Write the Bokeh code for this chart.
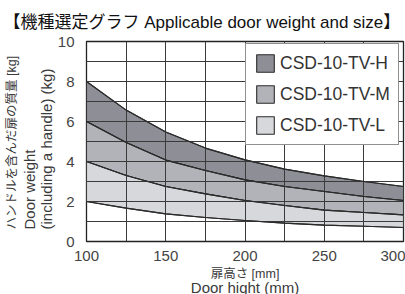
from bokeh.plotting import figure
from bokeh.models import (Legend, LegendItem, Title, SingleIntervalTicker, FixedTicker)
from bokeh.embed import file_html
from bokeh.resources import INLINE

# ---- data ----
door_height = [100, 125, 150, 175, 200, 225, 250, 275, 300]
h_upper = [8.0, 6.57, 5.48, 4.67, 4.08, 3.62, 3.28, 3.0, 2.75]
m_upper = [6.0, 4.95, 4.07, 3.55, 3.08, 2.75, 2.5, 2.25, 2.05]
l_upper = [4.0, 3.3, 2.75, 2.38, 2.05, 1.8, 1.57, 1.45, 1.33]
l_lower = [2.0, 1.67, 1.38, 1.2, 1.05, 0.92, 0.82, 0.76, 0.7]
series_names = ["CSD-10-TV-H", "CSD-10-TV-M", "CSD-10-TV-L"]
y_ticks = [0, 2, 4, 6, 8, 10]
x_ticks = [100, 150, 200, 250, 300]

colors = ["#8e8f96", "#b2b3b9", "#d7d8db"]
LINE = "#2b2b2b"
FONT = "'Liberation Sans', 'Noto Sans CJK JP'"
TXT = "#3a3a3a"

W, H = 405, 294
p = figure(width=W, height=H, x_range=(100, 300), y_range=(0, 10),
           output_backend="svg", toolbar_location=None,
           min_border_left=86, min_border_right=2, min_border_top=41, min_border_bottom=53)
p.background_fill_color = "white"
p.border_fill_color = "white"
p.outline_line_color = "#222222"
p.outline_line_width = 1.3

# bands as polygons built from the upper/lower curves
bounds = [(h_upper, m_upper), (m_upper, l_upper), (l_upper, l_lower)]
band_renderers = []
for (up, lo), c in zip(bounds, colors):
    xs = door_height + door_height[::-1]
    ys = up + lo[::-1]
    r = p.patch(xs, ys, fill_color=c, line_color=LINE, line_width=1.1, level="underlay")
    band_renderers.append(r)

# grid (drawn over the bands)
p.xgrid.ticker = SingleIntervalTicker(interval=25)
p.ygrid.ticker = SingleIntervalTicker(interval=1)
for g in (p.xgrid, p.ygrid):
    g.grid_line_color = "#3a3a3a"
    g.grid_line_width = 1
    g.grid_line_alpha = 1
    g.level = "glyph"

for curve in (h_upper, m_upper, l_upper, l_lower):
    p.line(door_height, curve, line_color=LINE, line_width=1.1, level="guide")

# axes
p.xaxis.ticker = FixedTicker(ticks=x_ticks)
p.yaxis.ticker = FixedTicker(ticks=y_ticks)
for ax in (p.xaxis[0], p.yaxis[0]):
    ax.axis_line_color = None
    ax.major_tick_line_color = None
    ax.minor_tick_line_color = None
    ax.major_label_text_font = FONT
    ax.major_label_text_font_size = "15px"
    ax.major_label_text_color = "#444444"
p.yaxis.major_label_standoff = 6
p.xaxis.major_label_standoff = 3

# legend
items = [LegendItem(label=n, renderers=[r]) for n, r in zip(series_names, band_renderers)]
leg = Legend(items=items, location=(159, 96), glyph_width=22, glyph_height=22,
             label_text_font=FONT, label_text_font_size="17.5px", label_text_color="#333333",
             label_standoff=4, spacing=9, padding=8, margin=0,
             border_line_color="#222222", border_line_width=1.2,
             background_fill_color="white", background_fill_alpha=1)
p.add_layout(leg)

# main title
p.title = Title(text="【機種選定グラフ Applicable door weight and size】",
                text_font=FONT, text_font_size="17px",
                text_font_style="normal", text_color="#111111", align="left",
                offset=-83, standoff=20)

# y axis titles: English two-line block next to the axis, Japanese line outside it
p.add_layout(Title(text="Door weight\n(including a handle) (kg)", text_font=FONT,
                   text_font_size="15px", text_font_style="normal", text_line_height=1.0,
                   text_color=TXT, align="left", offset=12, standoff=0), "left")
p.add_layout(Title(text="ハンドルを含んだ扉の質量 [kg]", text_font=FONT,
                   text_font_size="12.5px", text_font_style="normal",
                   text_color=TXT, align="left", offset=12, standoff=0), "left")

# x axis titles
xtitles = [("扉高さ [mm]", "12.5px", 3), ("Door hight (mm)", "15px", -11)]
for t, fs, so in xtitles:
    p.add_layout(Title(text=t, text_font=FONT, text_font_size=fs, text_font_style="normal",
                       text_color=TXT, align="center", standoff=so), "below")

open("out.html", "w").write(file_html(p, INLINE))
